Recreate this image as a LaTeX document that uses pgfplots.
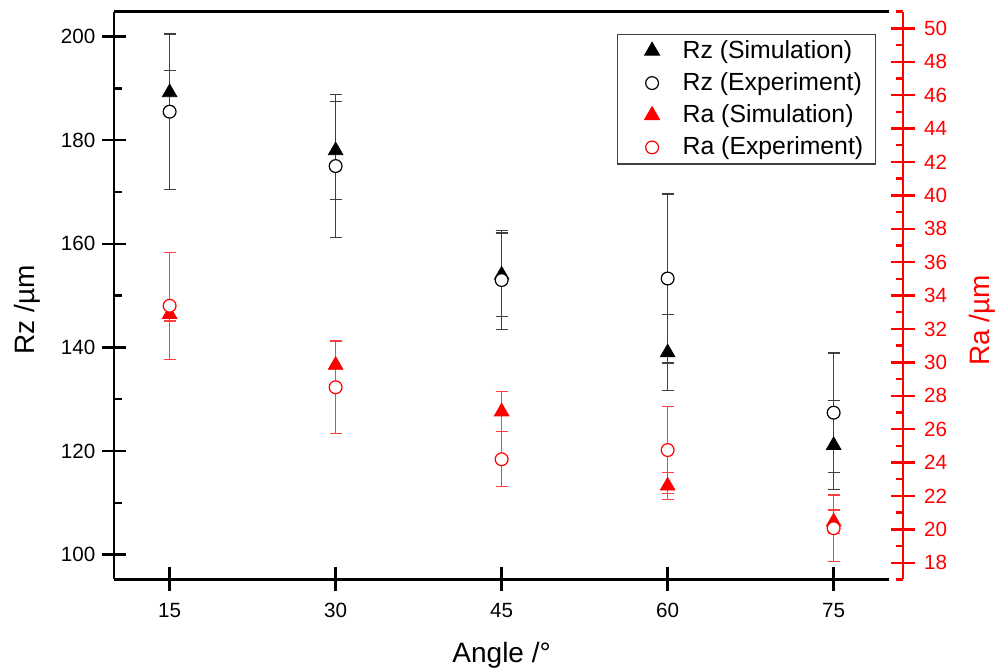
\documentclass[border=0pt]{standalone}
\usepackage{fontspec}
\setmainfont{Liberation Sans}
\usepackage{pgfplots}
\pgfplotsset{compat=1.18}
\begin{document}
\begin{tikzpicture}
\pgfplotsset{
  common/.style={
    scale only axis, width=387.35pt, height=283.9pt,
    xmin=10, xmax=80,
    tick align=center,
    major tick length=12pt,
    /pgf/number format/assume math mode=true,
    ticklabel style={font=\fontsize{10.3}{12}\selectfont},
    label style={font=\fontsize{14}{16}\selectfont},
  },
  ebk/.style={only marks, black, mark size=#1,
    mark options={line width=0.6pt, fill=white},
    error bars/y dir=both, error bars/y explicit,
    error bars/error bar style={line width=0.6pt, black!75},
    error bars/error mark options={rotate=90, mark size=3pt, line width=0.6pt, black!75}},
  ebr/.style={only marks, red, mark size=#1,
    mark options={line width=0.6pt, fill=white},
    error bars/y dir=both, error bars/y explicit,
    error bars/error bar style={line width=0.6pt, red!75},
    error bars/error mark options={rotate=90, mark size=3pt, line width=0.6pt, red!75}},
}
\begin{axis}[
  common,
  ymin=95.2, ymax=204.8,
  axis x line=box, axis y line*=left,
  xtick pos=bottom, ytick pos=left,
  xtick={15,30,45,60,75},
  ytick={100,120,...,200},
  extra y ticks={110,130,...,190},
  extra y tick labels={},
  extra tick style={tick align=inside, major tick length=3.8pt},
  axis line style={line width=1.2pt, -},
  tick style={line width=1.2pt, black},
  xticklabel style={yshift=-2.5pt},
  xlabel={Angle /°}, ylabel={Rz /µm},
  xlabel style={font=\fontsize{14}{16}\selectfont, at={(axis description cs:0.5,0)}, yshift=-37.75pt, anchor=center},
  ylabel style={font=\fontsize{14}{16}\selectfont, at={(axis description cs:0,0.475)}, yshift=43.65pt, anchor=center},
]
\addplot[ebk=4.2pt, mark=triangle*, mark options={fill=black}] coordinates {
  (15,189.2) +- (0,4.2)
  (30,178.0) +- (0,9.4)
  (45,154.0) +- (0,8.1)
  (60,139.0) +- (0,7.3)
  (75,121.1) +- (0,8.6)
};
\addplot[ebk=3.2pt, mark=*] coordinates {
  (15,185.5) +- (0,15.0)
  (30,175.0) +- (0,13.8)
  (45,153.0) +- (0,9.5)
  (60,153.3) +- (0,16.3)
  (75,127.4) +- (0,11.5)
};
\end{axis}
\begin{axis}[
  common,
  ymin=17, ymax=51,
  axis x line=none, axis y line*=right,
  axis y line shift=7pt,
  ytick={18,20,...,50},
  extra y ticks={17,19,...,51},
  extra y tick labels={},
  extra tick style={tick align=inside, major tick length=3.5pt},
  axis line style={red, line width=1.2pt, -},
  tick style={red, line width=1.2pt},
  yticklabel style={red, xshift=1pt},
  ylabel={Ra /µm},
  ylabel style={red, font=\fontsize{14}{16}\selectfont, at={(axis description cs:1,0.456)}, yshift=-46.5pt, anchor=center},
  legend style={at={(0.983,0.961)}, anchor=north east, draw=black!75, line width=0.6pt,
    font=\fontsize{12.4}{14}\selectfont, inner xsep=4pt, inner ysep=1pt, row sep=1.6pt},
  legend cell align=left,
  legend image code/.code={\path (0cm,0cm) (26pt,0cm); \draw[#1] plot coordinates {(13pt,0cm)};},
]
\addlegendimage{black, mark=triangle*, mark size=4.2pt, mark options={line width=0.6pt}}
\addlegendentry{Rz (Simulation)}
\addlegendimage{black, mark=*, mark size=3.2pt, mark options={line width=0.6pt, fill=white}}
\addlegendentry{Rz (Experiment)}
\addlegendimage{red, mark=triangle*, mark size=4.2pt, mark options={line width=0.6pt}}
\addlegendentry{Ra (Simulation)}
\addlegendimage{red, mark=*, mark size=3.2pt, mark options={line width=0.6pt, fill=white}}
\addlegendentry{Ra (Experiment)}
\addplot[ebr=4.2pt, mark=triangle*, mark options={fill=red}, forget plot] coordinates {
  (15,32.88) +- (0,0.4)
  (30,29.84) +- (0,1.42)
  (45,27.05) +- (0,1.2)
  (60,22.61) +- (0,0.81)
  (75,20.46) +- (0,0.7)
};
\addplot[ebr=3.2pt, mark=*, forget plot] coordinates {
  (15,33.39) +- (0,3.2)
  (30,28.51) +- (0,2.77)
  (45,24.20) +- (0,1.64)
  (60,24.75) +- (0,2.62)
  (75,20.07) +- (0,1.99)
};
\end{axis}
\pgfresetboundingbox
\path (-57.15pt,-46.25pt) rectangle (442.85pt,289.75pt);
\end{tikzpicture}
\end{document}
